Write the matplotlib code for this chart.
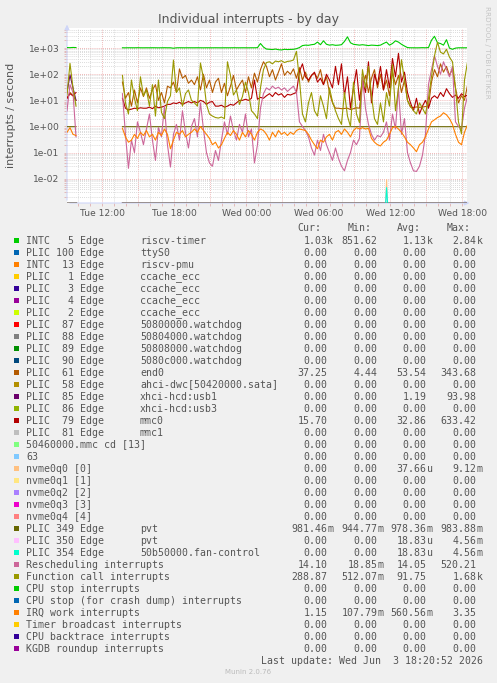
import numpy as np
import matplotlib.pyplot as plt
from matplotlib.patches import Rectangle

# hours since Tue 00:00, 15 min steps; no data between the two segments
t_a = 9.05 + 0.25 * np.arange(4)
t_b = 13.67 + 0.25 * np.arange(116)

# INTC 5 riscv-timer
intc_a = [1050, 1040, 1060, 1050]
intc_b = [1030, 1025, 1032, 1030, 1028, 1035, 1030, 1027,
          1031, 1029, 1033, 1030, 1026, 1030, 1034, 1029,
          1030, 990, 1028, 1032, 1030, 1027, 1031, 1030,
          1029, 1033, 1030, 1026, 1031, 1030, 1028, 1032,
          1030, 1027, 1031, 1030, 1029, 1033, 1030, 1028,
          1031, 1030, 1027, 1032, 1030, 1040, 1500, 1100,
          920, 900, 880, 920, 870, 852, 900, 880,
          890, 900, 950, 1050, 1250, 1300, 1280, 1350,
          1400, 1700, 1350, 1900, 1400, 1300, 1350, 1280,
          1300, 1350, 1800, 2700, 1600, 1400, 1350, 1300,
          1350, 1300, 1250, 1300, 1280, 1250, 1300, 1500,
          1700, 1300, 1500, 1900, 1700, 1400, 1200, 1050,
          1030, 1030, 1025, 1030, 1040, 1030, 1050, 2000,
          2840, 1600, 1500, 1300, 2100, 1000, 900, 1000,
          1030, 1030, 1028, 1030]

# PLIC 61 end0
end0_a = [12, 20, 15, 10]
end0_b = [50, 12, 20, 6, 25, 8, 30, 14,
          30, 12, 25, 40, 10, 20, 8, 35,
          30, 50, 20, 160, 70, 90, 45, 60,
          40, 80, 25, 100, 30, 60, 20, 50,
          70, 20, 45, 15, 35, 90, 25, 40,
          60, 20, 80, 30, 110, 50, 150, 300,
          200, 80, 150, 60, 120, 250, 90, 130,
          100, 160, 70, 180, 60, 120, 50, 90,
          110, 70, 150, 40, 80, 20, 8, 5,
          5, 4.8, 4.9, 5, 4.44, 4.8, 5.2, 5,
          40, 90, 20, 70, 150, 30, 100, 25,
          60, 15, 120, 40, 90, 20, 60, 10,
          5.5, 5.3, 5.6, 5.4, 5.5, 5.8, 6, 50,
          150, 80, 250, 120, 200, 90, 160, 30,
          8, 15, 10, 37.25]

# PLIC 85 xhci-hcd:usb1 (only in the first segment)
usb1_a = [20, 94, 30, 10]

# PLIC 79 mmc0
mmc0_a = [12, 18, 15, 20]
mmc0_b = [12, 5, 4.3, 4.6, 5, 4.8, 5.2, 5,
          5, 5.5, 4.8, 6, 5.2, 5.5, 6, 7,
          7, 8, 7.5, 8.5, 7, 8, 9, 8,
          9, 8, 10, 9, 7, 8.5, 9, 6,
          6, 6.5, 5.5, 6, 7, 6.5, 8, 10,
          10, 11, 10, 12, 60, 11, 13, 12,
          15, 18, 14, 20, 16, 18, 13, 17,
          16, 18, 20, 130, 250, 80, 60, 90,
          120, 50, 70, 40, 100, 60, 30, 200,
          40, 250, 15, 80, 5, 30, 150, 10,
          60, 20, 300, 8, 100, 40, 200, 25,
          150, 30, 400, 80, 633, 50, 120, 20,
          8, 4, 12, 3, 6, 10, 5, 12,
          15, 12, 20, 14, 28, 18, 13, 16,
          12, 18, 14, 15.7]

# PLIC 349 pvt
pvt_a = [0.98, 0.981, 0.979, 0.98]
pvt_b = [0.98, 0.979, 0.981, 0.98, 0.978, 0.98, 0.982, 0.979,
         0.98, 0.981, 0.979, 0.98, 0.977, 0.98, 0.981, 0.98,
         0.979, 0.98, 0.982, 0.98, 0.978, 0.979, 0.98, 0.981,
         0.98, 0.979, 0.98, 0.983, 0.98, 0.978, 0.98, 0.979,
         0.98, 0.981, 0.979, 0.98, 0.976, 0.98, 0.981, 0.98,
         0.979, 0.98, 0.982, 0.98, 0.978, 0.979, 0.98, 0.981,
         0.98, 0.979, 0.98, 0.981, 0.98, 0.978, 0.98, 0.979,
         0.98, 0.981, 0.979, 0.98, 0.977, 0.98, 0.981, 0.98,
         0.979, 0.98, 0.982, 0.98, 0.978, 0.979, 0.98, 0.981,
         0.98, 0.979, 0.98, 0.983, 0.98, 0.978, 0.98, 0.979,
         0.98, 0.981, 0.979, 0.98, 0.976, 0.98, 0.981, 0.98,
         0.979, 0.98, 0.982, 0.98, 0.978, 0.979, 0.98, 0.981,
         0.98, 0.979, 0.98, 0.981, 0.98, 0.978, 0.98, 0.979,
         0.98, 0.981, 0.979, 0.98, 0.977, 0.98, 0.981, 0.98,
         0.979, 0.98, 0.982, 0.981]

# Rescheduling interrupts
resched_a = [4, 40, 20, 0.4]
resched_b = [18, 0.5, 0.025, 0.3, 0.1, 1.5, 0.6, 0.2,
             0.8, 3, 0.3, 0.05, 0.9, 0.4, 6, 0.2,
             0.028, 0.5, 1.2, 0.3, 4, 0.6, 0.15, 1,
             2, 0.4, 8, 0.8, 0.1, 0.04, 0.03, 0.12,
             0.05, 0.3, 1.5, 0.5, 2.5, 0.7, 0.3, 1.2,
             0.6, 3, 0.4, 0.8, 0.04, 0.2, 5, 18,
             30, 25, 35, 28, 32, 25, 30, 22,
             28, 35, 20, 1.5, 1, 0.7, 0.4, 0.15,
             0.08, 0.3, 0.12, 0.5, 0.2, 0.1, 0.05, 0.15,
             0.06, 0.03, 0.02, 0.05, 0.1, 0.3, 0.2, 0.35,
             80, 5, 1.2, 0.5, 0.3, 0.45, 0.4, 0.6,
             1.5, 0.3, 3, 0.8, 30, 0.5, 2, 0.1,
             0.04, 0.02, 0.019, 0.03, 0.08, 0.5, 40, 150,
             520, 200, 100, 300, 150, 80, 200, 1.5,
             1, 0.8, 5, 14.1]

# Function call interrupts
funcall_a = [16, 260, 30, 6]
funcall_b = [90, 8, 3, 60, 12, 4, 80, 15,
             25, 6, 40, 2.5, 60, 3.5, 2, 9,
             15, 350, 20, 30, 6, 18, 25, 10,
             8, 6, 270, 70, 7, 3, 2.5, 2.2,
             2.1, 2.3, 2.0, 300, 90, 16, 25, 7,
             14, 50, 20, 4, 3, 2, 30, 150,
             280, 300, 250, 320, 300, 330, 280, 310,
             320, 350, 750, 60, 3, 1.5, 8, 20,
             4, 2.5, 15, 6, 2, 30, 9, 4,
             2, 1.2, 20, 2.5, 1.0, 50, 3, 1.4,
             150, 30, 200, 15, 2, 1.2, 8, 1.5,
             20, 6, 230, 4, 30, 360, 60, 10,
             6, 4, 3, 8, 5, 3, 12, 80,
             500, 1680, 700, 600, 900, 450, 300, 30,
             1.5, 0.52, 60, 289]

# IRQ work interrupts
irqwork_a = [0.6, 0.9, 0.5, 0.45]
irqwork_b = [0.85, 0.4, 0.25, 0.3, 0.5, 0.35, 0.6, 0.45,
             0.7, 0.4, 0.5, 0.3, 0.6, 0.45, 0.8, 0.5,
             0.14, 0.3, 0.6, 0.5, 0.7, 0.4, 0.5, 0.6,
             0.8, 0.6, 1.0, 0.7, 0.5, 0.35, 0.2, 0.25,
             0.15, 0.2, 0.35, 0.6, 0.45, 0.7, 0.5, 0.3,
             0.6, 0.4, 0.7, 0.5, 0.3, 0.6, 0.8, 0.7,
             0.5, 0.3, 0.6, 0.4, 0.7, 0.5, 0.6, 0.45,
             0.6, 0.5, 0.7, 0.8, 0.75, 0.7, 0.5, 0.3,
             0.2, 0.14, 0.3, 0.25, 0.4, 0.5, 0.3, 0.6,
             0.7, 0.5, 0.8, 0.6, 0.4, 0.7, 0.9, 0.8,
             0.9, 0.8, 0.85, 0.35, 0.25, 0.2, 0.18, 0.25,
             0.3, 0.5, 0.9, 1.0, 0.8, 0.6, 0.4, 0.25,
             0.2, 0.15, 0.108, 0.2, 0.25, 0.4, 0.8, 1.5,
             1.8, 2.2, 2.5, 3.35, 2.8, 2.0, 1.2, 0.5,
             0.25, 0.2, 0.6, 1.15]

# single short spike around Wed 11:40 (nvme0q0, PLIC 350, PLIC 354)
spike_t = [35.6, 35.68, 35.76]
spike_peak = {19: 9.12e-3, 25: 4.56e-3, 26: 4.56e-3}

labels = ["INTC   5 Edge", "PLIC 100 Edge", "INTC  13 Edge", "PLIC   1 Edge",
          "PLIC   3 Edge", "PLIC   4 Edge", "PLIC   2 Edge", "PLIC  87 Edge",
          "PLIC  88 Edge", "PLIC  89 Edge", "PLIC  90 Edge", "PLIC  61 Edge",
          "PLIC  58 Edge", "PLIC  85 Edge", "PLIC  86 Edge", "PLIC  79 Edge",
          "PLIC  81 Edge", "50460000.mmc cd [13]", "63", "nvme0q0 [0]",
          "nvme0q1 [1]", "nvme0q2 [2]", "nvme0q3 [3]", "nvme0q4 [4]",
          "PLIC 349 Edge", "PLIC 350 Edge", "PLIC 354 Edge",
          "Rescheduling interrupts", "Function call interrupts",
          "CPU stop interrupts", "CPU stop (for crash dump) interrupts",
          "IRQ work interrupts", "Timer broadcast interrupts",
          "CPU backtrace interrupts", "KGDB roundup interrupts"]
descs = ["riscv-timer", "ttyS0", "riscv-pmu", "ccache_ecc", "ccache_ecc",
         "ccache_ecc", "ccache_ecc", "50800000.watchdog", "50804000.watchdog",
         "50808000.watchdog", "5080c000.watchdog", "end0",
         "ahci-dwc[50420000.sata]", "xhci-hcd:usb1", "xhci-hcd:usb3", "mmc0",
         "mmc1", "", "", "", "", "", "", "", "pvt", "pvt",
         "50b50000.fan-control", "", "", "", "", "", "", "", ""]
colors = ["#00CC00", "#0066B3", "#FF8000", "#FFCC00", "#330099", "#990099",
          "#CCFF00", "#FF0000", "#808080", "#008F00", "#00487D", "#B35A00",
          "#B38F00", "#6B006B", "#8FB300", "#B30000", "#BEBEBE", "#80FF80",
          "#80C9FF", "#FFC080", "#FFE680", "#AA80FF", "#EE00CC", "#FF8080",
          "#666600", "#FFBFFF", "#00FFCC", "#CC6699", "#999900", "#00CC00",
          "#0066B3", "#FF8000", "#FFCC00", "#330099", "#990099"]
stats = {0: ("1.03k", "851.62", "1.13k", "2.84k"),
         11: ("37.25", "4.44", "53.54", "343.68"),
         13: ("0.00", "0.00", "1.19", "93.98"),
         15: ("15.70", "0.00", "32.86", "633.42"),
         19: ("0.00", "0.00", "37.66u", "9.12m"),
         24: ("981.46m", "944.77m", "978.36m", "983.88m"),
         25: ("0.00", "0.00", "18.83u", "4.56m"),
         26: ("0.00", "0.00", "18.83u", "4.56m"),
         27: ("14.10", "18.85m", "14.05", "520.21"),
         28: ("288.87", "512.07m", "91.75", "1.68k"),
         31: ("1.15", "107.79m", "560.56m", "3.35")}

tick_hours = [12, 18, 24, 30, 36, 42]
tick_labels = ["Tue 12:00", "Tue 18:00", "Wed 00:00", "Wed 06:00", "Wed 12:00", "Wed 18:00"]
ytick_labels = ["1e-02", "1e-01", "1e+00", "1e+01", "1e+02", "1e+03"]

data = {0: (intc_a, intc_b), 11: (end0_a, end0_b), 13: (usb1_a, None),
        15: (mmc0_a, mmc0_b), 24: (pvt_a, pvt_b), 27: (resched_a, resched_b),
        28: (funcall_a, funcall_b), 31: (irqwork_a, irqwork_b)}

fig = plt.figure(figsize=(4.97, 6.83), dpi=100, facecolor="#F0F0F0")
ax = fig.add_axes([67 / 497, 1 - 203 / 683, 400 / 497, 175 / 683])
ax.set_facecolor("white")
ax.set_yscale("log")
ymin, ymax = 10 ** -2.93, 10 ** 3.77
ax.set_xlim(9.05, 42.38)
ax.set_ylim(ymin, ymax)

for i in range(35):
    a, b = data.get(i, (None, None))
    for t, v in ((t_a, a), (t_b, b)):
        v = np.zeros(len(t)) if v is None else np.asarray(v, float)
        ax.plot(t, np.where(v > 0, v, ymin), color=colors[i], lw=0.8, zorder=3)
    if i in spike_peak:
        sv = np.array([0, spike_peak[i], 0])
        ax.plot(spike_t, np.where(sv > 0, sv, ymin), color=colors[i], lw=0.8, zorder=3)

# grid: red dotted every 3 h / decade, grey dotted every hour / subdecade
major_x = list(range(12, 43, 3))
ax.set_xticks(major_x)
ax.set_xticklabels([tick_labels[tick_hours.index(h)] if h in tick_hours else "" for h in major_x])
ax.set_xticks(range(10, 43), minor=True)
ax.set_yticks([10.0 ** d for d in range(-2, 4)])
ax.set_yticklabels(ytick_labels)
ax.set_yticks([k * 10.0 ** d for d in range(-3, 4) for k in range(2, 10)
               if ymin < k * 10.0 ** d < ymax], minor=True)
ax.yaxis.set_minor_formatter(plt.NullFormatter())
ax.grid(True, which="minor", color="#CFCFCF", ls=(0, (1, 1.5)), lw=0.6)
ax.grid(True, which="major", color="#EBA0A0", ls=(0, (1, 1.5)), lw=0.6)
ax.set_axisbelow(True)
ax.tick_params(which="both", length=2, width=0.6, color="#E0B0B0")
ax.tick_params(axis="y", labelsize=6.6, labelcolor="#555555", pad=3.5)
ax.tick_params(axis="x", labelsize=6.6, labelcolor="#555555", pad=2.5)
for s in ax.spines.values():
    s.set_visible(False)
arrow = dict(arrowstyle="-|>", color="#CFD6F8", lw=0.8, mutation_scale=7)
ax.annotate("", xy=(1.013, 0), xytext=(0, 0), xycoords="axes fraction",
            arrowprops=arrow, annotation_clip=False, zorder=1)
ax.annotate("", xy=(0, 1.035), xytext=(0, 0), xycoords="axes fraction",
            arrowprops=arrow, annotation_clip=False, zorder=1)

fig.text(248 / 497, 1 - 19 / 683, "Individual interrupts - by day", ha="center",
         va="center", fontsize=9, color="#555555")
fig.text(11 / 497, 1 - 115 / 683, "interrupts / second", rotation=90, ha="center",
         va="center", fontsize=8, color="#555555")
fig.text(487 / 497, 1 - 52 / 683, "RRDTOOL / TOBI OETIKER", rotation=270, ha="center",
         va="center", fontsize=5.2, color="#C4C4C4")

# legend drawn in pixel coordinates
ov = fig.add_axes([0, 0, 1, 1], facecolor="none")
ov.set_xlim(0, 497)
ov.set_ylim(683, 0)
ov.axis("off")
mono = dict(family="DejaVu Sans Mono", size=7.15, color="#555555", va="baseline")
for hx, h in zip([297.7, 347.7, 397.3, 446.7], ["Cur:", "Min:", "Avg:", "Max:"]):
    ov.text(hx, 231, h, ha="left", **mono)
col_end = [327.3, 377.3, 426.7, 476.7]
for i in range(35):
    yb = 243.5 + 12 * i
    ov.add_patch(Rectangle((14, yb - 5.8), 5, 5, color=colors[i], lw=0))
    ov.text(26.3, yb, labels[i], ha="left", **mono)
    if descs[i]:
        ov.text(140, yb, descs[i], ha="left", **mono)
    for x, s in zip(col_end, stats.get(i, ("0.00",) * 4)):
        if s[-1].isalpha():
            ov.text(x, yb, s[:-1], ha="right", **mono)
            ov.text(x, yb, s[-1], ha="left", **mono)
        else:
            ov.text(x, yb, s, ha="right", **mono)
ov.text(261.3, 663.5, "Last update: Wed Jun  3 18:20:52 2026", ha="left", **mono)
ov.text(248, 672, "Munin 2.0.76", ha="center", va="center", fontsize=5, color="#BBBBBB")

fig.savefig("out.png", dpi=100, facecolor=fig.get_facecolor())
